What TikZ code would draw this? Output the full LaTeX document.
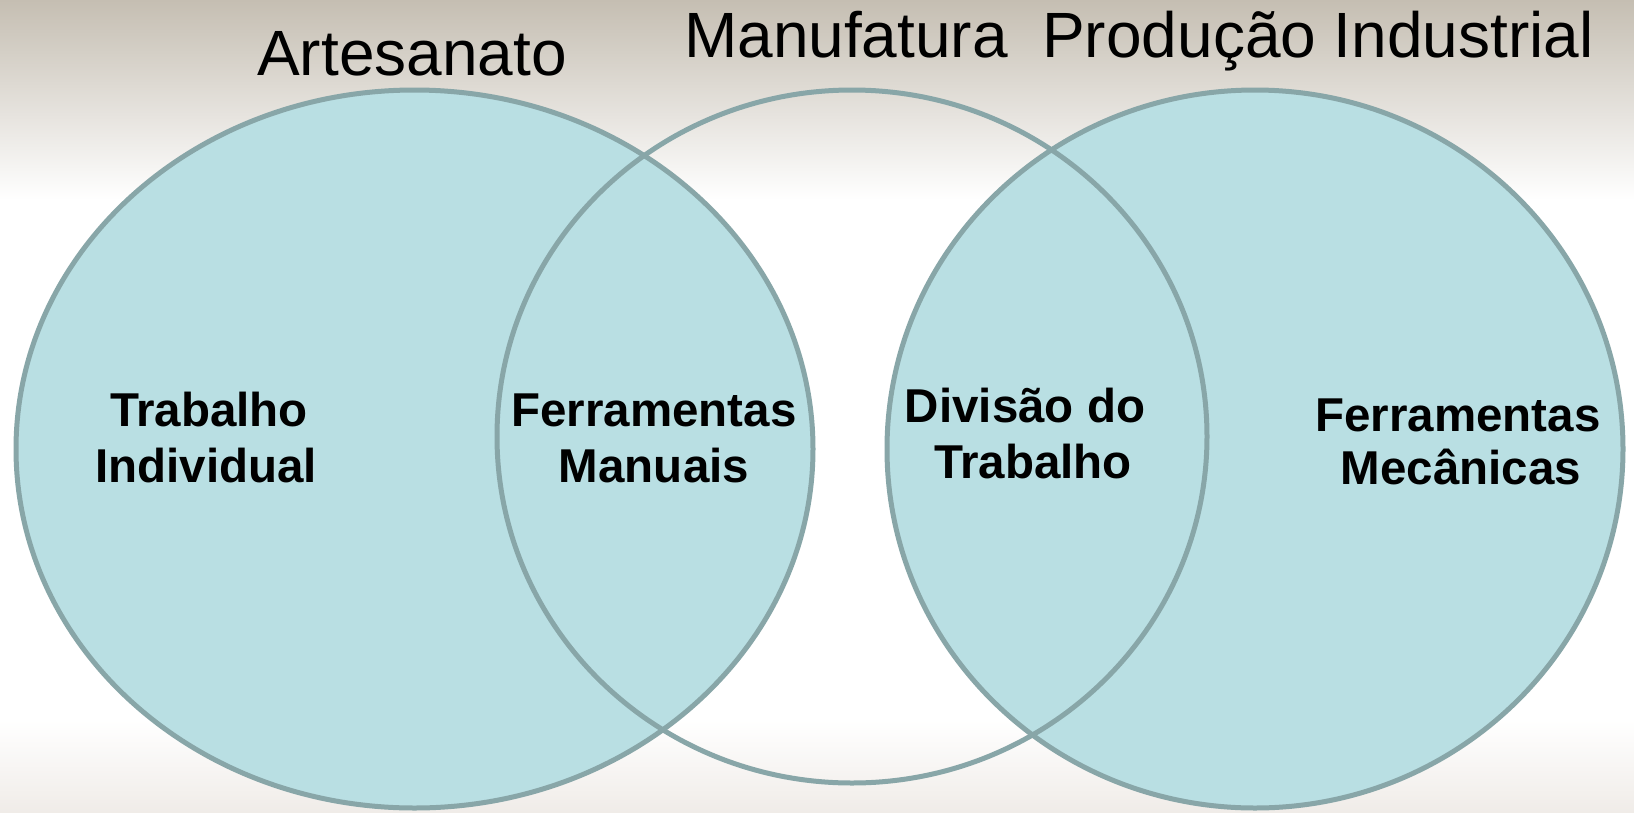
\documentclass[tikz,border=0pt]{standalone}
\usepackage{fontspec}
\setmainfont{Liberation Sans}
\definecolor{vfill}{RGB}{185,223,227}
\definecolor{vline}{RGB}{136,166,168}
\definecolor{bgtop}{RGB}{197,190,178}
\definecolor{bgbot}{RGB}{240,236,232}
\begin{document}
\begin{tikzpicture}[x=1pt,y=-1pt,
  venn/.style={line width=5pt, draw=vline},
  title/.style={font=\fontsize{64}{70}\selectfont, anchor=base, inner sep=0pt},
  lbl/.style={font=\fontsize{47.5}{52}\selectfont\bfseries, anchor=base, inner sep=0pt}]
\useasboundingbox (0,0) rectangle (1634,812);
\fill[white] (0,0) rectangle (1634,812);
\shade[top color=bgtop, bottom color=white] (0,0) rectangle (1634,200);
\shade[top color=white, bottom color=bgbot] (0,720) rectangle (1634,812);
% ellipses
\filldraw[venn, fill=vfill] (414.5,449) ellipse [x radius=398.5, y radius=359];
\filldraw[venn, fill=vfill] (1255,449) ellipse [x radius=368, y radius=359];
\draw[venn] (852,436.5) ellipse [x radius=355, y radius=346.5];
% titles
\node[title] (t1) at (412,75) {Artesanato};
\node[title] (t2) at (846,57) {Manufatura};
\node[title] (t3) at (1318,57) {Produção Industrial};
% labels
\node[lbl] (a1) at (209,426) {Trabalho};
\node[lbl] (a2) at (206,482) {Individual};
\node[lbl] (b1) at (654,426) {Ferramentas};
\node[lbl] (b2) at (654,482) {Manuais};
\node[lbl] (c1) at (1025,422) {Divisão do};
\node[lbl] (c2) at (1033,478) {Trabalho};
\node[lbl] (d1) at (1458,431) {Ferramentas};
\node[lbl] (d2) at (1461,484) {Mecânicas};
\end{tikzpicture}
\end{document}
